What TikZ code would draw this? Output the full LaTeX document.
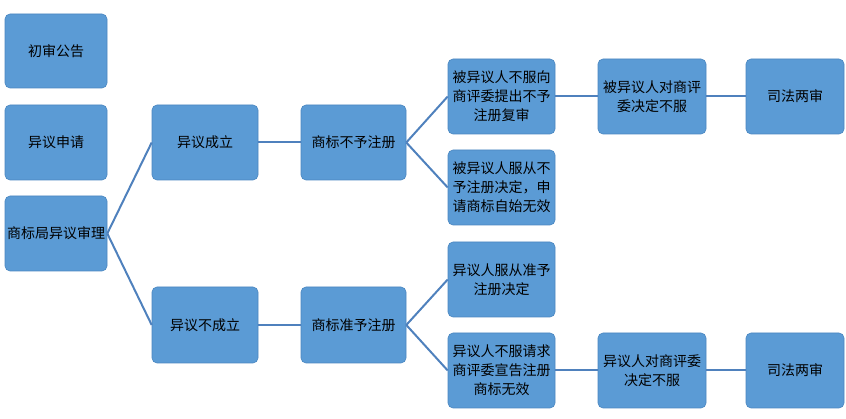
\documentclass[tikz,border=0pt]{standalone}
\usepackage{fontspec}
\setmainfont{Noto Sans CJK SC}
\begin{document}
\begin{tikzpicture}[x=1pt,y=-1pt,
  bx/.style={draw=boxline,fill=boxfill,rounded corners=5pt,line width=0.6pt,align=center,font=\fontsize{14}{19}\selectfont,inner sep=2pt},
  ln/.style={draw=lncol,line width=2pt}]
\definecolor{boxfill}{HTML}{5B9BD5}
\definecolor{boxline}{HTML}{4A86C0}
\definecolor{lncol}{HTML}{4F81BD}
\useasboundingbox (0,0) rectangle (846,419);
\newcommand\bxn[6]{\pgfmathsetmacro\bw{#4-#2}\pgfmathsetmacro\bh{#5-#3}\node[bx,minimum width=\bw pt,minimum height=\bh pt] (#1) at ({(#2+#4)/2},{(#3+#5)/2}) {#6};}
\bxn{a}{5}{14}{107}{88}{初审公告}
\bxn{b}{5}{105}{107}{180}{异议申请}
\bxn{c}{5}{196}{107}{271}{商标局异议审理}
\bxn{d}{152}{105}{258}{180}{异议成立}
\bxn{e}{152}{287}{258}{363}{异议不成立}
\bxn{f}{301}{105}{406}{180}{商标不予注册}
\bxn{g}{301}{287}{406}{363}{商标准予注册}
\bxn{h}{448}{59}{555}{134}{被异议人不服向\\商评委提出不予\\注册复审}
\bxn{i}{448}{150}{555}{225}{被异议人服从不\\予注册决定，申\\请商标自始无效}
\bxn{j}{448}{242}{555}{317}{异议人服从准予\\注册决定}
\bxn{k}{448}{333}{555}{408}{异议人不服请求\\商评委宣告注册\\商标无效}
\bxn{l}{598}{59}{706}{134}{被异议人对商评\\委决定不服}
\bxn{m}{746}{59}{844}{134}{司法两审}
\bxn{n}{598}{333}{706}{408}{异议人对商评委\\决定不服}
\bxn{o}{746}{333}{844}{408}{司法两审}
\draw[ln] (c.east) -- (d.west);
\draw[ln] (c.east) -- (e.west);
\draw[ln] (d) -- (f);
\draw[ln] (e) -- (g);
\draw[ln] (f.east) -- (h.west);
\draw[ln] (f.east) -- (i.west);
\draw[ln] (g.east) -- (j.west);
\draw[ln] (g.east) -- (k.west);
\draw[ln] (h) -- (l);
\draw[ln] (l) -- (m);
\draw[ln] (k) -- (n);
\draw[ln] (n) -- (o);
\end{tikzpicture}
\end{document}
